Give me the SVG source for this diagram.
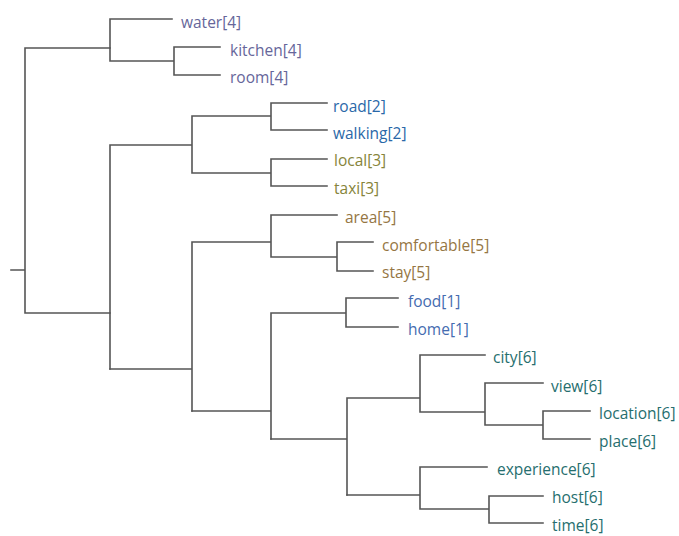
<svg xmlns="http://www.w3.org/2000/svg" width="679" height="536" viewBox="0 0 679 536">
<style>
.e{fill:none;stroke:#555;stroke-width:1.6;stroke-linecap:square}
text{font-family:"Open Sans","Noto Sans","Liberation Sans",sans-serif;font-size:15.5px}
.c4{fill:#66669a}.c2{fill:#2a68a8}.c3{fill:#86843a}.c5{fill:#957643}.c1{fill:#456cb0}.c6{fill:#266e6e}
</style>
<rect width="679" height="536" fill="#fff"/>
<g id="connectors">
<path class="e" d="M11,270H25M25,48V313M25,48H110M25,313H110"/>
<path class="e" d="M110,19V61M110,19H172M110,61H174M174,47V75M174,47H220M174,75H220"/>
<path class="e" d="M110,145V369M110,145H192M192,116V173M192,116H271M271,103V130M271,103H327M271,130H327M192,173H271M271,159V186M271,159H327M271,186H327"/>
<path class="e" d="M110,369H192M192,242V411M192,242H271M271,215V257M271,215H337M271,257H337M337,242V271M337,242H373M337,271H373"/>
<path class="e" d="M192,411H271M271,313V439M271,313H346M346,298V327M346,298H398M346,327H398"/>
<path class="e" d="M271,439H347M347,398V495M347,398H420M420,355V412M420,355H485M420,412H485M485,383V425M485,383H543M485,425H543M543,411V439M543,411H590M543,439H590"/>
<path class="e" d="M347,495H420M420,467V509M420,467H487M420,509H489M489,496V523M489,496H543M489,523H543"/>
</g>
<g id="water"><text class="c4" x="181" y="28">water[4]</text></g>
<g id="kitchen"><text class="c4" x="230" y="56">kitchen[4]</text></g>
<g id="room"><text class="c4" x="230" y="83">room[4]</text></g>
<g id="road"><text class="c2" x="333" y="112">road[2]</text></g>
<g id="walking"><text class="c2" x="333" y="139">walking[2]</text></g>
<g id="local"><text class="c3" x="334" y="166">local[3]</text></g>
<g id="taxi"><text class="c3" x="334" y="194">taxi[3]</text></g>
<g id="area"><text class="c5" x="345" y="223">area[5]</text></g>
<g id="comfortable"><text class="c5" x="382" y="251">comfortable[5]</text></g>
<g id="stay"><text class="c5" x="382" y="278">stay[5]</text></g>
<g id="food"><text class="c1" x="408" y="307">food[1]</text></g>
<g id="home"><text class="c1" x="408" y="335">home[1]</text></g>
<g id="city"><text class="c6" x="493" y="363">city[6]</text></g>
<g id="view"><text class="c6" x="551" y="392">view[6]</text></g>
<g id="location"><text class="c6" x="599" y="419">location[6]</text></g>
<g id="place"><text class="c6" x="599" y="447">place[6]</text></g>
<g id="experience"><text class="c6" x="497" y="475">experience[6]</text></g>
<g id="host"><text class="c6" x="552" y="503">host[6]</text></g>
<g id="time"><text class="c6" x="552" y="531">time[6]</text></g>
</svg>
